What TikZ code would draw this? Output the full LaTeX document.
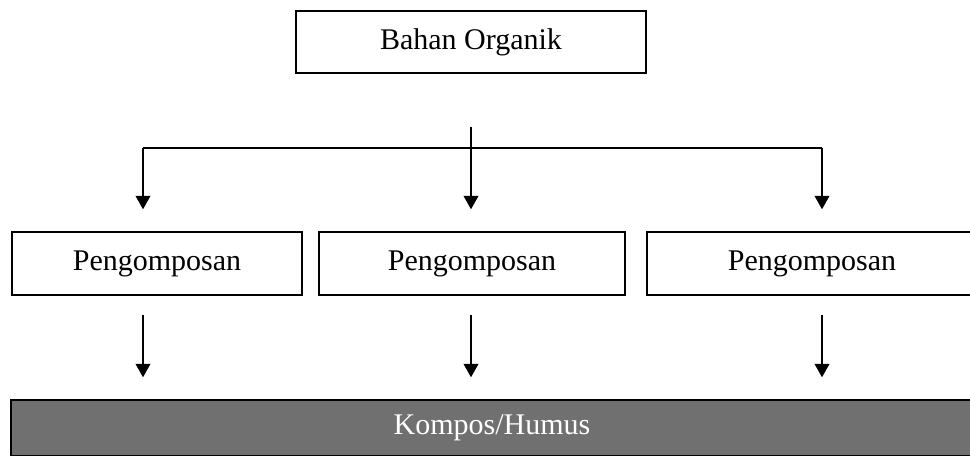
\documentclass[tikz,border=0pt]{standalone}
\usepackage{fontspec}
\setmainfont{Liberation Serif}
\usetikzlibrary{arrows.meta}
\definecolor{bandgray}{RGB}{112,112,112}
\begin{document}
\begin{tikzpicture}[x=0.75pt,y=-0.75pt,
  box/.style={draw=black,line width=1.1pt,inner sep=0pt,font=\fontsize{22.5pt}{26pt}\selectfont},
  arr/.style={line width=1.1pt,-{Triangle[width=11pt,length=10pt]},shorten >=16.5pt},
  link/.style={line width=1.1pt}]
\clip (0,0) rectangle (970,456);
\fill[white] (0,0) rectangle (970,456);
\node[box,minimum width=350*0.75pt,minimum height=62*0.75pt] (top) at (471,42) {Bahan Organik};
\node[box,minimum width=290*0.75pt,minimum height=63*0.75pt] (b1) at (157,263.5) {Pengomposan};
\node[box,minimum width=306*0.75pt,minimum height=63*0.75pt] (b2) at (472,263.5) {Pengomposan};
\node[box,minimum width=330*0.75pt,minimum height=63*0.75pt] (b3) at (812,263.5) {Pengomposan};
\node[draw=black,line width=1.1pt,fill=bandgray,text=white,inner sep=0pt,
  minimum width=962*0.75pt,minimum height=56*0.75pt,
  font=\fontsize{22.5pt}{26pt}\selectfont] (band) at (492,428) {Kompos/Humus};
\coordinate (t) at (471,127);
\coordinate (h1) at (143,148);
\coordinate (h2) at (471,148);
\coordinate (h3) at (822,148);
\coordinate (l1) at (143,315);
\coordinate (l2) at (471,315);
\coordinate (l3) at (822,315);
\draw[link] (h1) -- (h3);
\draw[arr] (t) -- (t |- b2.north);
\draw[arr] (h1) -- (h1 |- b1.north);
\draw[arr] (h3) -- (h3 |- b3.north);
\draw[arr] (l1) -- (l1 |- band.north);
\draw[arr] (l2) -- (l2 |- band.north);
\draw[arr] (l3) -- (l3 |- band.north);
\end{tikzpicture}
\end{document}
